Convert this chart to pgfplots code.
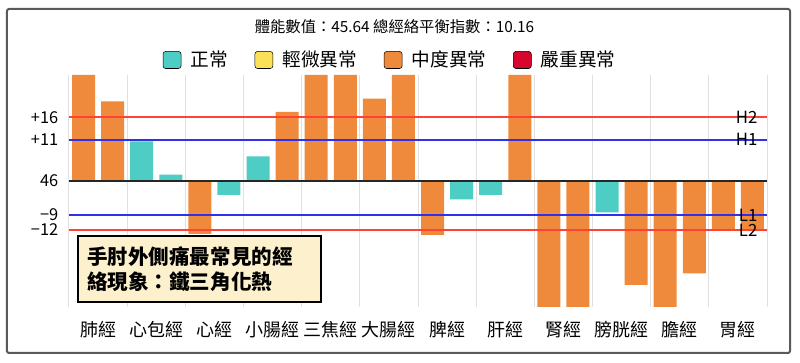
\documentclass[border=0pt]{standalone}
\usepackage{fontspec}
\setmainfont{Noto Sans CJK TC}
\usepackage{pgfplots}
\pgfplotsset{compat=1.18}
\definecolor{cteal}{HTML}{4ECDC4}
\definecolor{cyellow}{HTML}{FBE15A}
\definecolor{corange}{HTML}{EF8A3C}
\definecolor{cred}{HTML}{D6062E}
\definecolor{lred}{HTML}{FF4136}
\definecolor{lblue}{HTML}{3030E8}
\definecolor{cream}{HTML}{FDF0CC}
\newcommand\PX[2]{({(#1-69)*0.75pt},{(307-#2)*0.75pt})}
\begin{document}
\begin{tikzpicture}
\useasboundingbox \PX{0}{0} rectangle \PX{800}{363};
\begin{axis}[
  at={(0,0)}, anchor=south west,
  scale only axis, width=523.5pt, height=174pt,
  xmin=0, xmax=12, ymin=-126, ymax=106,
  axis x line=bottom, axis y line=left, axis line style={draw=none},
  xtick={0.5,1.5,...,11.5},
  xticklabels={肺經,心包經,心經,小腸經,三焦經,大腸經,脾經,肝經,腎經,膀胱經,膽經,胃經},
  minor xtick={0,1,...,12},
  xminorgrids=true, minor grid style={black!12, line width=0.75pt},
  ytick={63.7,41.3,0,-34,-49},
  yticklabels={+16,+11,46,−9,−12},
  tick style={draw=none}, major tick length=0pt, minor tick length=0pt,
  xticklabel style={font=\fontsize{13.5}{16}\selectfont, yshift=-7.5pt},
  yticklabel style={font=\fontsize{12.3}{14}\selectfont, xshift=-4.5pt},
  title={體能數值：45.64 總經絡平衡指數：10.16},
  title style={at={(axis description cs:0.4663,1.2069)}, anchor=center, yshift=-6pt, font=\fontsize{11.5}{13}\selectfont},
  legend columns=4,
  legend style={draw=none, fill=none, at={(0.4606,1.0647)}, anchor=center,
    font=\fontsize{14}{16}\selectfont,
    /tikz/every odd column/.append style={column sep=5pt},
    /tikz/every even column/.append style={column sep=18pt}},
  legend image code/.code={\fill[#1, rounded corners=2pt] (0pt,-6.4pt) rectangle (13.5pt,6.4pt);},
]
\addlegendimage{fill=cteal}\addlegendentry{正常}
\addlegendimage{fill=cyellow}\addlegendentry{輕微異常}
\addlegendimage{fill=corange}\addlegendentry{中度異常}
\addlegendimage{fill=cred}\addlegendentry{嚴重異常}
% bars
\addplot[ybar, bar width=17.25pt, bar shift=0pt, fill=corange, draw=none, forget plot] coordinates {
 (0.25,106) (0.75,79.7) (2.25,-53) (3.75,69) (4.25,106) (4.75,106) (5.25,82.3) (5.75,106)
 (6.25,-54) (7.75,106) (8.25,-126) (8.75,-126) (9.75,-104) (10.25,-126) (10.75,-92.3)
 (11.25,-49) (11.75,-49)};
\addplot[ybar, bar width=17.25pt, bar shift=0pt, fill=cteal, draw=none, forget plot] coordinates {
 (1.25,39.7) (1.75,6.3) (2.75,-14) (3.25,24.7) (6.75,-18.3) (7.25,-14) (9.25,-31.3)};
% threshold lines
\addplot[lred, line width=1.5pt, forget plot] coordinates {(0,63.7) (12,63.7)};
\addplot[lblue, line width=1.5pt, forget plot] coordinates {(0,41.3) (12,41.3)};
\addplot[black!85, line width=1.5pt, forget plot] coordinates {(0,0) (12,0)};
\addplot[lblue, line width=1.5pt, forget plot] coordinates {(0,-34) (12,-34)};
\addplot[lred, line width=1.5pt, forget plot] coordinates {(0,-49) (12,-49)};
\node[anchor=east, inner sep=0pt, font=\fontsize{12.6}{14}\selectfont] at (axis cs:11.84,63.7) {H2};
\node[anchor=east, inner sep=0pt, font=\fontsize{12.6}{14}\selectfont] at (axis cs:11.84,41.3) {H1};
\node[anchor=east, inner sep=0pt, font=\fontsize{12.6}{14}\selectfont] at (axis cs:11.84,-34) {L1};
\node[anchor=east, inner sep=0pt, font=\fontsize{12.6}{14}\selectfont] at (axis cs:11.84,-49) {L2};
\end{axis}
\node[draw=black, fill=cream, line width=1.5pt, minimum width=182pt, minimum height=49.5pt, anchor=center] at \PX{199.5}{269} {};
\node[anchor=west, align=left, inner sep=0pt, font=\bfseries\fontsize{15.4}{18.5}\selectfont] at \PX{87}{269} {手肘外側痛最常見的經\\絡現象：鐵三角化熱};
\draw[black!65, line width=1.5pt, rounded corners=1.5pt] \PX{7}{9} rectangle \PX{790}{353};
\end{tikzpicture}
\end{document}
